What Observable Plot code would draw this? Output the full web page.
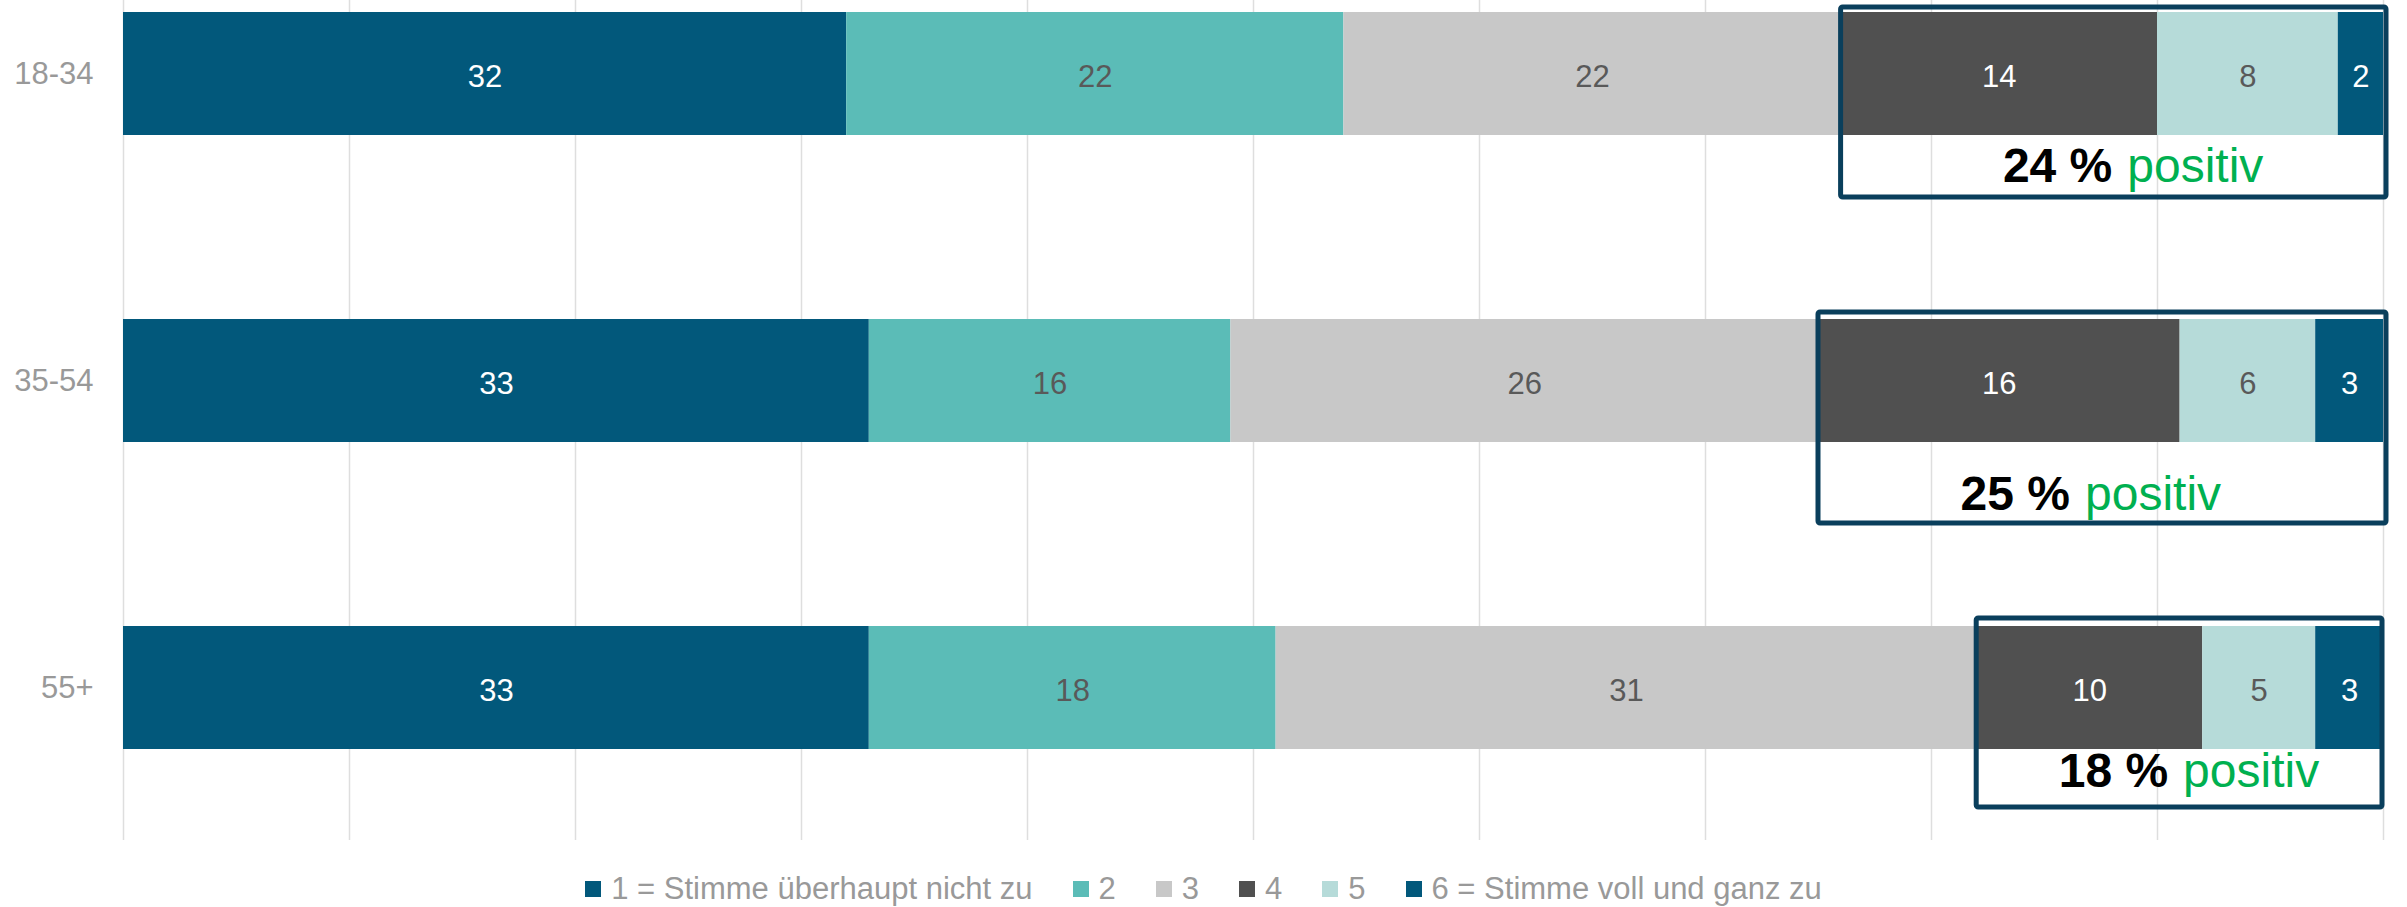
<!DOCTYPE html>
<html>
<head>
<meta charset="utf-8">
<script src="https://cdn.jsdelivr.net/npm/d3@7"></script>
<script src="https://cdn.jsdelivr.net/npm/@observablehq/plot@0.6"></script>
<style>
  html, body { margin: 0; padding: 0; background: #ffffff; }
  body { font-family: "Liberation Sans", Arial, sans-serif; width: 2407px; height: 907px; overflow: hidden; }
  #chart svg { display: block; }
  #legend { display: flex; justify-content: center; align-items: center; height: 67px; box-sizing: border-box; padding-top: 30px; font-size: 31px; color: #999999; line-height: 1; }
  #legend .item { display: inline-flex; align-items: center; margin-right: 40px; }
  #legend .item:last-child { margin-right: 0; }
  #legend .sw { width: 16px; height: 16px; margin-right: 10px; display: inline-block; }
</style>
</head>
<body>
<div id="chart"></div>
<div id="legend"></div>
<script>
// ---- data ----
const ageGroups = ["18-34", "35-54", "55+"];
const categories = ["1 = Stimme überhaupt nicht zu", "2", "3", "4", "5", "6 = Stimme voll und ganz zu"];
const colors = ["#02587b", "#5bbcb7", "#c8c8c8", "#505050", "#b6dbd9", "#02587b"];
const labelOnDark = [true, false, false, true, false, true];
const values18to34 = [32, 22, 22, 14, 8, 2];
const values35to54 = [33, 16, 26, 16, 6, 3];
const values55plus = [33, 18, 31, 10, 5, 3];
const positiveShare = [24, 25, 18];
const gridTicks = [0, 10, 20, 30, 40, 50, 60, 70, 80, 90, 100];

// ---- table (cumulative stacking of the values) ----
const seriesByAge = [values18to34, values35to54, values55plus];
const rows = [];
ageGroups.forEach((age, a) => {
  let acc = 0;
  seriesByAge[a].forEach((v, c) => {
    rows.push({age, cat: categories[c], ci: c, value: v, x1: acc, x2: acc + v, mid: acc + v / 2});
    acc += v;
  });
});
const boxes = ageGroups.map((age, a) => {
  const vals = seriesByAge[a];
  const start = d3.sum(vals.slice(0, 3));
  const end = d3.sum(vals);
  return {age, start, end, mid: (start + end) / 2, pct: positiveShare[a] + " %"};
});

// hand-placed annotation layout per row (pixels)
const boxLayout = [
  {top: -5, bottom: -62, right: -3, dy: 93, dx: 7},
  {top: -7, bottom: -81, right: -3, dy: 114, dx: -24},
  {top: -8, bottom: -58, right: 1, dy: 84, dx: -5}
];

const marks = [
  Plot.ruleX(gridTicks, {stroke: "#dedede", strokeWidth: 1.5}),
  Plot.barX(rows, {x1: "x1", x2: "x2", y: "age", fill: "cat"}),
  Plot.text(rows.filter(d => labelOnDark[d.ci]), {x: "mid", y: "age", text: "value", fill: "#ffffff", fontSize: 31, dy: 3}),
  Plot.text(rows.filter(d => !labelOnDark[d.ci]), {x: "mid", y: "age", text: "value", fill: "#595959", fontSize: 31, dy: 3})
];

boxes.forEach((b, i) => {
  const L = boxLayout[i];
  marks.push(
    Plot.rect([b], {x1: "start", x2: "end", y: "age", fill: "none", stroke: "#0a3f5c", strokeWidth: 5, rx: 2,
      insetTop: L.top, insetBottom: L.bottom, insetRight: L.right}),
    Plot.text([b], {x: "mid", y: "age", text: "pct", textAnchor: "end", dx: L.dx - 7, dy: L.dy,
      fontSize: 48, fontWeight: "bold", fill: "#000000"}),
    Plot.text([b], {x: "mid", y: "age", text: () => "positiv", textAnchor: "start", dx: L.dx + 8, dy: L.dy,
      fontSize: 48, fill: "#00b050"})
  );
});

const chart = Plot.plot({
  width: 2407,
  height: 840,
  marginLeft: 123,
  marginRight: 24,
  marginTop: 0,
  marginBottom: 0,
  style: {fontFamily: "Liberation Sans, Arial, sans-serif", fontSize: "31px", color: "#999999", background: "#ffffff", overflow: "visible"},
  x: {domain: [0, 100], axis: null},
  y: {domain: ageGroups, paddingInner: 0.6, paddingOuter: 0.168, align: 0.116, tickSize: 0, tickPadding: 30, label: null},
  color: {domain: categories, range: colors},
  marks
});
document.getElementById("chart").appendChild(chart);

// ---- legend ----
const legend = document.getElementById("legend");
categories.forEach((c, i) => {
  const item = document.createElement("span");
  item.className = "item";
  const sw = document.createElement("span");
  sw.className = "sw";
  sw.style.background = colors[i];
  const t = document.createElement("span");
  t.textContent = c;
  item.appendChild(sw);
  item.appendChild(t);
  legend.appendChild(item);
});
</script>
</body>
</html>
